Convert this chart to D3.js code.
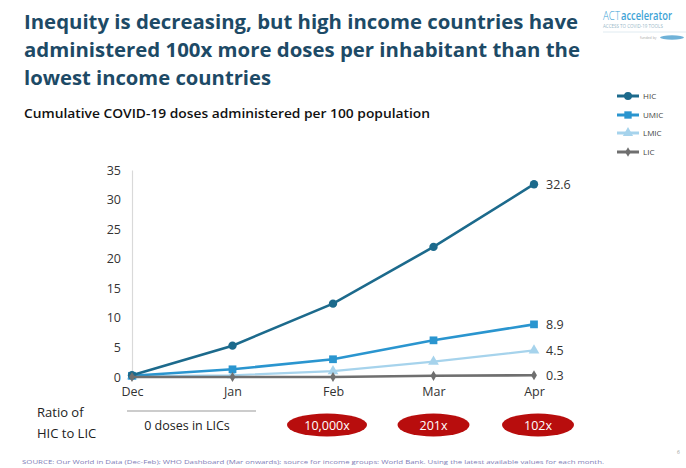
<!DOCTYPE html>
<html>
<head>
<meta charset="utf-8">
<script src="https://cdn.jsdelivr.net/npm/d3@7"></script>
<style>
  html, body { margin: 0; padding: 0; background: #fff; }
  svg { display: block; }
</style>
</head>
<body>
<script>
// ---- data ----
const months = ["Dec", "Jan", "Feb", "Mar", "Apr"];
const seriesNames = ["HIC", "UMIC", "LMIC", "LIC"];
const hicValues  = [0.3, 5.3, 12.4, 22.0, 32.6];
const umicValues = [0.2, 1.3, 3.0, 6.2, 8.9];
const lmicValues = [0.1, 0.3, 1.0, 2.6, 4.5];
const licValues  = [0.0, 0.0, 0.0, 0.2, 0.3];
const endLabels  = ["32.6", "8.9", "4.5", "0.3"];
const yTicks = [0, 5, 10, 15, 20, 25, 30, 35];
const ratioMonths = ["Feb", "Mar", "Apr"];
const ratioLabels = ["10,000x", "201x", "102x"];
const titleLines = [
  "Inequity is decreasing, but high income countries have",
  "administered 100x more doses per inhabitant than the",
  "lowest income countries"
];
const subtitle = "Cumulative COVID-19 doses administered per 100 population";
const sourceText = "SOURCE: Our World in Data (Dec-Feb); WHO Dashboard (Mar onwards); source for income groups: World Bank. Using the latest available values for each month.";

const allValues = [hicValues, umicValues, lmicValues, licValues];
const colors = ["#1c6a8c", "#2a95cf", "#a6d3ec", "#6f6f6f"];
const symbols = [d3.symbolCircle, d3.symbolSquare, d3.symbolTriangle, d3.symbolDiamond];
const symSizes = [55, 60, 50, 30];
const lineWidths = [2.6, 2.6, 2.2, 2.6];

const W = 686, H = 468;
const svg = d3.select("body").append("svg").attr("width", W).attr("height", H);
const font = "'Open Sans', 'Noto Sans', sans-serif";

// ---- title ----
const titleW = [554, 556, 247];
const titleY = [29, 57, 85];
titleLines.forEach((t, i) => {
  svg.append("text").attr("x", 24).attr("y", titleY[i])
    .attr("font-family", font).attr("font-weight", 700).attr("font-size", 20)
    .attr("fill", "#1d4a66")
    .attr("textLength", titleW[i]).attr("lengthAdjust", "spacingAndGlyphs")
    .text(t);
});
svg.append("text").attr("x", 24).attr("y", 118)
  .attr("font-family", font).attr("font-weight", 600).attr("font-size", 12)
  .attr("fill", "#111").attr("textLength", 406).attr("lengthAdjust", "spacingAndGlyphs")
  .text(subtitle);

// ---- logo ----
svg.append("text").attr("transform", "translate(603,20) scale(0.75,1)")
  .attr("font-family", font).attr("font-size", 13).attr("font-weight", 300).attr("fill", "#3da3d6")
  .text("ACT");
svg.append("text").attr("transform", "translate(621,20) scale(0.72,1)")
  .attr("font-family", font).attr("font-size", 13).attr("font-weight", 600).attr("fill", "#3da3d6")
  .text("accelerator");
svg.append("text").attr("x", 603).attr("y", 28).attr("font-family", font)
  .attr("font-size", 4.5).attr("fill", "#9ab8c8").text("ACCESS TO COVID-19 TOOLS");
svg.append("line").attr("x1", 603).attr("x2", 686).attr("y1", 32).attr("y2", 32)
  .attr("stroke", "#d8e6ee").attr("stroke-width", 0.8);
svg.append("text").attr("x", 640).attr("y", 39).attr("font-family", font)
  .attr("font-size", 3.5).attr("fill", "#aaa").text("funded by");
svg.append("ellipse").attr("cx", 672).attr("cy", 37.5).attr("rx", 12).attr("ry", 2.2)
  .attr("fill", "#6fb2d8");

// ---- scales ----
const x = d3.scalePoint().domain(months).range([132, 534]);
const y = d3.scaleLinear().domain([0, 35]).range([377, 170]);

// y axis
const yAxis = svg.append("g").attr("transform", "translate(132,0)")
  .call(d3.axisLeft(y).tickValues(yTicks).tickSize(0).tickPadding(11));
yAxis.select(".domain").attr("stroke", "#d9d9d9").attr("stroke-width", 1.2);
yAxis.selectAll("text").attr("font-family", font).attr("font-size", 12.5).attr("fill", "#333");

// x axis labels
const xAxis = svg.append("g").attr("transform", "translate(0,377)")
  .call(d3.axisBottom(x).tickSize(0).tickPadding(10));
xAxis.select(".domain").remove();
xAxis.selectAll("text").attr("font-family", font).attr("font-size", 12.5).attr("fill", "#333");

// ---- lines ----
const line = d3.line().x((d, i) => x(months[i])).y(d => y(d));
const order = [2, 1, 0, 3];
order.forEach(s => {
  const g = svg.append("g");
  g.append("path").datum(allValues[s]).attr("d", line)
    .attr("fill", "none").attr("stroke", colors[s]).attr("stroke-width", lineWidths[s]);
  g.selectAll("path.m").data(allValues[s]).join("path").attr("class", "m")
    .attr("transform", (d, i) => `translate(${x(months[i])},${y(d)})`)
    .attr("d", d3.symbol().type(symbols[s]).size(symSizes[s]))
    .attr("fill", colors[s]);
});

// end labels
endLabels.forEach((t, s) => {
  const v = allValues[s][allValues[s].length - 1];
  svg.append("text").attr("x", x("Apr") + 12).attr("y", y(v)).attr("dy", "0.36em")
    .attr("font-family", font).attr("font-size", 12.5).attr("fill", "#333").text(t);
});

// ---- legend ----
const legY = [96, 115, 133, 152];
seriesNames.forEach((n, s) => {
  const g = svg.append("g").attr("transform", `translate(0,${legY[s]})`);
  g.append("line").attr("x1", 617).attr("x2", 639).attr("stroke", colors[s]).attr("stroke-width", 3);
  g.append("path").attr("transform", "translate(628,0)")
    .attr("d", d3.symbol().type(symbols[s]).size(symSizes[s] * 0.9)).attr("fill", colors[s]);
  g.append("text").attr("x", 643).attr("y", 0).attr("dy", "0.35em")
    .attr("font-family", font).attr("font-size", 8).attr("fill", "#444").text(n);
});

// ---- ratio row ----
svg.append("text").attr("x", 37).attr("y", 417).attr("font-family", font)
  .attr("font-size", 13).attr("fill", "#222").text("Ratio of");
svg.append("text").attr("x", 37).attr("y", 438).attr("font-family", font)
  .attr("font-size", 13).attr("fill", "#222").text("HIC to LIC");
svg.append("line").attr("x1", 127).attr("x2", 256).attr("y1", 411).attr("y2", 411)
  .attr("stroke", "#999").attr("stroke-width", 1);
svg.append("text").attr("x", 187).attr("y", 430).attr("text-anchor", "middle")
  .attr("font-family", font).attr("font-size", 12.5).attr("fill", "#222").text("0 doses in LICs");

const ellRx = [40, 36, 36];
const ellShift = [-6, 0, 4];
ratioMonths.forEach((m, i) => {
  const cx = x(m) + ellShift[i];
  svg.append("ellipse").attr("cx", cx).attr("cy", 425).attr("rx", ellRx[i]).attr("ry", 11.5)
    .attr("fill", "#b80d0d");
  svg.append("text").attr("x", cx).attr("y", 425).attr("dy", "0.36em").attr("text-anchor", "middle")
    .attr("font-family", font).attr("font-size", 12.5).attr("fill", "#fff").text(ratioLabels[i]);
});

// ---- source ----
svg.append("text").attr("x", 22).attr("y", 464).attr("font-family", font)
  .attr("font-size", 5.5).attr("fill", "#7f80b8")
  .attr("textLength", 582).attr("lengthAdjust", "spacingAndGlyphs").text(sourceText);
svg.append("text").attr("x", 677).attr("y", 454).attr("font-family", font)
  .attr("font-size", 5).attr("fill", "#999").text("6");
</script>
</body>
</html>
